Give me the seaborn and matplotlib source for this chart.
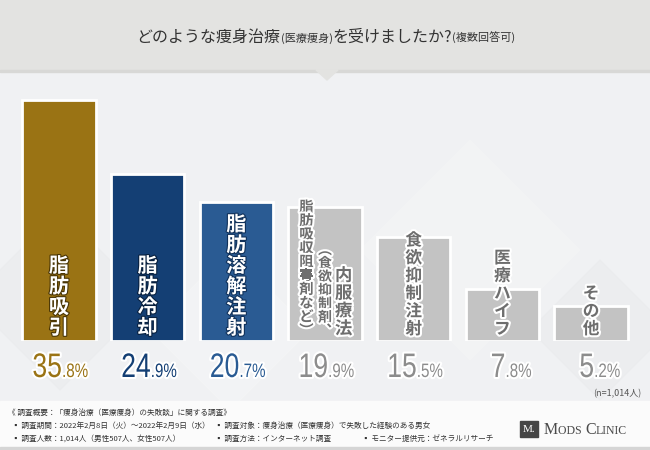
import numpy as np
import pandas as pd
import matplotlib
matplotlib.use("Agg")
import matplotlib.pyplot as plt
import matplotlib.patheffects as pe
from matplotlib.patches import Rectangle, Polygon
from matplotlib.transforms import Affine2D
import seaborn as sns

# ---- data ----
categories = [
    "脂肪吸引",
    "脂肪冷却",
    "脂肪溶解注射",
    "内服療法（食欲抑制剤、脂肪吸収阻害剤など）",
    "食欲抑制注射",
    "医療ハイフ",
    "その他",
]
values = [35.8, 24.9, 20.7, 19.9, 15.5, 7.8, 5.2]
title_parts = ["どのような痩身治療", "(医療痩身)", "を受けましたか?", "(複数回答可)"]
n_note = "(n=1,014人)"
footer_lines = [
    ["《 調査概要：「痩身治療（医療痩身）の失敗談」に関する調査》"],
    ["▪ 調査期間：2022年2月8日（火）～2022年2月9日（水）",
     "▪ 調査対象：痩身治療（医療痩身）で失敗した経験のある男女"],
    ["▪ 調査人数：1,014人（男性507人、女性507人）",
     "▪ 調査方法：インターネット調査",
     "▪ モニター提供元：ゼネラルリサーチ"],
]

CJK = ["Noto Sans CJK JP", "DejaVu Sans"]
bar_colors = ["#9a7314", "#143f74", "#2a5b93", "#c3c3c3", "#c3c3c3", "#c3c3c3", "#c3c3c3"]
pct_colors = ["#9a7314", "#143f74", "#2a5b93", "#8c8c8c", "#8c8c8c", "#8c8c8c", "#8c8c8c"]

sns.set_theme(style="white")
plt.rcParams["font.family"] = CJK


class Squeeze(pe.AbstractPathEffect):
    """draw text narrower around a fixed x (display coords), with a white halo"""

    def __init__(self, sx, cx, halo=3, halo_color="white"):
        super().__init__()
        self.sx, self.cx = sx, cx
        self.halo, self.halo_color = halo, halo_color

    def draw_path(self, renderer, gc, tpath, affine, rgbFace=None):
        aff = affine + Affine2D().translate(-self.cx, 0).scale(self.sx, 1).translate(self.cx, 0)
        gc0 = renderer.new_gc()
        gc0.copy_properties(gc)
        gc0.set_linewidth(self.halo)
        gc0.set_foreground(self.halo_color)
        renderer.draw_path(gc0, tpath, aff, rgbFace)
        gc0.restore()
        renderer.draw_path(gc, tpath, aff, rgbFace)


W, H = 650, 450
fig = plt.figure(figsize=(6.5, 4.5), dpi=100)
fig.patch.set_facecolor("#f0f1f3")

# background layer in pixel coordinates
bg = fig.add_axes([0, 0, 1, 1], zorder=0)
bg.set_xlim(0, W)
bg.set_ylim(H, 0)
bg.axis("off")

# header band + pointer
bg.add_patch(Rectangle((0, 0), W, 70, color="#e3e3e1", zorder=1))
bg.add_patch(Rectangle((0, 70), W, 2, color="#d8d8d6", zorder=1))
bg.add_patch(Polygon([(316, 70), (338, 70), (327, 80)], closed=True,
                     color="#e3e3e1", zorder=2))

# faint background diamonds
for cx, cy, r, c in [(60, 300, 90, "#eaebed"), (230, 330, 80, "#f5f6f7"),
                     (470, 250, 110, "#f4f5f6"), (600, 330, 70, "#eaebed")]:
    bg.add_patch(Polygon([(cx - r, cy), (cx, cy - r), (cx + r, cy), (cx, cy + r)],
                         closed=True, color=c, zorder=0.5, alpha=0.5))

# footer band
bg.add_patch(Rectangle((0, 401), W, 46, color="#fbfbfb", zorder=1))
bg.add_patch(Rectangle((0, 447), W, 1.5, color="#d5d5d5", zorder=1))

fig.canvas.draw()
renderer = fig.canvas.get_renderer()


def place_row(parts, sizes, y, x0=None, center=None, colors=None, families=None, ax=bg):
    """draw text pieces one after another, left to right"""
    texts = []
    for i, (p, s) in enumerate(zip(parts, sizes)):
        t = ax.text(0, y, p, fontsize=s, va="baseline", ha="left",
                    color=colors[i] if colors else "#333333",
                    family=families[i] if families else CJK, zorder=5)
        texts.append(t)
    widths = []
    for t in texts:
        bb = t.get_window_extent(renderer)
        widths.append(bb.width * W / fig.bbox.width)
    x = x0 if x0 is not None else center - sum(widths) / 2
    for t, w in zip(texts, widths):
        t.set_x(x)
        x += w
    return texts


# title
place_row(title_parts, [11.5, 8, 11.5, 8], 42, center=326,
          colors=["#333333"] * 4)

# footer text
footer_x = [[8], [12, 215], [12, 215, 362]]
footer_y = [415, 428, 441]
for row, xs, y in zip(footer_lines, footer_x, footer_y):
    for s, x in zip(row, xs):
        bg.text(x, y, s, fontsize=5.5, color="#333333", va="baseline", zorder=5)

# logo
bg.add_patch(Rectangle((520, 421), 18, 16, color="#454545", zorder=5))
bg.text(529, 432.5, "M.", fontsize=8, color="white", ha="center", va="baseline",
        family=["Liberation Serif"], zorder=6)
serif = ["Liberation Serif"]
place_row(["M", "ODS ", "C", "LINIC"], [11.5, 8.5, 11.5, 8.5], 434, x0=544,
          colors=["#4a4a4a"] * 4, families=[serif] * 4)

# n note
bg.text(641, 396, n_note, fontsize=6.5, color="#555555", ha="right", va="baseline", zorder=5)

# ---- bars ----
x_left, x_right = 14.6, 635.4
y_bottom, y_top = 341, 72
ax = fig.add_axes([x_left / W, 1 - y_bottom / H, (x_right - x_left) / W,
                   (y_bottom - y_top) / H], zorder=2)
ax.patch.set_alpha(0)

df = pd.DataFrame({"category": categories, "value": values})
sns.barplot(data=df, x="category", y="value", hue="category",
            palette=dict(zip(categories, bar_colors)), order=categories,
            width=0.83, saturation=1, edgecolor="white", linewidth=2,
            legend=False, ax=ax)
ax.set_xlim(-0.5, len(categories) - 0.5)
ax.set_ylim(0, 40)
ax.axis("off")

dark_edge = ["#4a3606", "#08203f", "#10315a"]


def vlabel(x, s, size, color, ls, stroke, y=0.45, lw=3):
    ax.text(x, y, "\n".join(s), ha="center", va="bottom", fontsize=size,
            color=color, fontweight="bold", linespacing=ls, family=CJK,
            path_effects=[pe.withStroke(linewidth=lw, foreground=stroke)],
            zorder=5, clip_on=False)


# inside labels for coloured bars
for i in range(3):
    vlabel(i, categories[i], 14.5, "white", 0.98, dark_edge[i], lw=1.6)

# grey bars: labels partly above the bar
main4 = categories[3].split("（")[0]
sub4 = categories[3].split("（")[1].rstrip("）")
sub4a, sub4b = sub4.split("、")
vlabel(3 + 0.21, main4, 12.5, "#6e6e6e", 0.98, "white")
vlabel(3.0, "︵" + sub4a + "︑", 10, "#6e6e6e", 0.95, "white")
vlabel(3 - 0.21, sub4b + "︶", 10.3, "#6e6e6e", 0.975, "white")
for i in range(4, len(categories)):
    vlabel(i, categories[i], 12, "#6e6e6e", 0.98, "white")

# percentage labels under the bars (condensed look)
num_font = ["Liberation Sans", "DejaVu Sans"]
tr = ax.get_xaxis_transform()
y_base = -(377 - y_bottom) / (y_bottom - y_top)
fig.canvas.draw()
for i, v in enumerate(values):
    whole, frac = f"{v:.1f}".split(".")
    jx = i + 0.035
    cx = ax.transData.transform((jx, 0))[0]
    squeeze = [Squeeze(0.78, cx)]
    ax.text(jx, y_base, whole, transform=tr, ha="right", va="baseline",
            fontsize=24.5, color=pct_colors[i], family=num_font, clip_on=False,
            path_effects=squeeze)
    ax.text(jx, y_base, "." + frac + "%", transform=tr, ha="left",
            va="baseline", fontsize=14, color=pct_colors[i], family=num_font,
            clip_on=False, path_effects=squeeze)

fig.savefig("out.png", dpi=100, facecolor=fig.get_facecolor())
